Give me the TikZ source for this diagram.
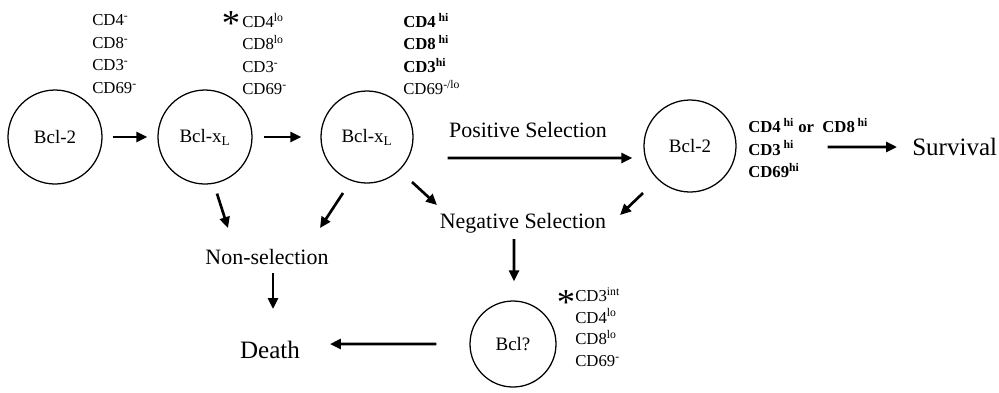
\documentclass[tikz,border=0pt]{standalone}
\usepackage{fontspec}
\setmainfont{Liberation Serif}
\usetikzlibrary{arrows.meta}
\begin{document}
\begin{tikzpicture}[
cell/.style={circle,draw,line width=0.9pt,minimum size=2.35cm,inner sep=0pt,font=\fontsize{13.5}{13.5}\selectfont},
marks/.style={anchor=west,inner sep=0pt,align=left,font=\fontsize{11.9}{16}\selectfont},
word/.style={inner sep=0pt,font=\fontsize{15.6}{15.6}\selectfont},
bigword/.style={inner sep=0pt,font=\fontsize{17.8}{17.8}\selectfont},
star/.style={inner sep=0pt,anchor=base,font=\fontsize{26}{26}\selectfont},
arr/.style={-{Triangle[length=7.8pt,width=7.1pt]},line width=1.9pt}]
\useasboundingbox (0,0) rectangle (24.975,-9.8);
\node[cell] (c1) at (1.375,-3.425) {Bcl-2};
\node[cell] (c2) at (5.125,-3.425) {Bcl-x\textsubscript{L}};
\node[cell,minimum size=2.3cm] (c3) at (9.175,-3.425) {Bcl-x\textsubscript{L}};
\node[cell,minimum size=2.3cm] (c4) at (17.25,-3.65) {Bcl-2};
\node[cell,minimum size=2.15cm] (c5) at (12.825,-8.6) {Bcl?};
\node[marks] (m1) at (2.3,-1.35) {CD4\textsuperscript{-}\\CD8\textsuperscript{-}\\CD3\textsuperscript{-}\\CD69\textsuperscript{-}};
\node[marks] (m2) at (6.05,-1.35) {CD4\textsuperscript{lo}\\CD8\textsuperscript{lo}\\CD3\textsuperscript{-}\\CD69\textsuperscript{-}};
\node[star] (s2) at (5.775,-0.89) {*};
\node[marks] (m3) at (10.075,-1.35) {\textbf{CD4\,\textsuperscript{hi}}\\\textbf{CD8\,\textsuperscript{hi}}\\\textbf{CD3\textsuperscript{hi}}\\CD69\textsuperscript{-/lo}};
\node[marks] (m4) at (18.7,-3.7) {\textbf{CD4\,\textsuperscript{hi} or\ \ CD8\,\textsuperscript{hi}}\\\textbf{CD3\,\textsuperscript{hi}}\\\textbf{CD69\textsuperscript{hi}}};
\node[marks,font=\fontsize{11.9}{15.4}\selectfont] (m5) at (14.375,-8.175) {CD3\textsuperscript{int}\\CD4\textsuperscript{lo}\\CD8\textsuperscript{lo}\\CD69\textsuperscript{-}};
\node[star] (s5) at (14.15,-7.865) {*};
\node[word] (pos) at (13.2,-3.25) {Positive Selection};
\node[word] (neg) at (13.075,-5.575) {Negative Selection};
\node[word] (non) at (6.675,-6.425) {Non-selection};
\node[bigword] (death) at (6.75,-8.75) {Death};
\node[bigword,anchor=west] (surv) at (22.8,-3.675) {Survival};
\draw[arr,shorten <=0.25cm,shorten >=0.25cm] (c1)--(c2);
\draw[arr,shorten <=0.275cm,shorten >=0.475cm] (c2)--(c3);
\draw[arr] ([shift={(0.85,-0.525)}]c3.east)--([shift={(-0.275,-0.3)}]c4.west);
\draw[arr,shorten >=0.375cm] ([shift={(2.275,-0.025)}]c4.east)--(surv.west);
\draw[arr] ([shift={(0.3,-0.225)}]c2.south)--([shift={(-0.975,0.725)}]non.center);
\draw[arr] ([shift={(-0.6,-1.4)}]c3.center)--([shift={(1.325,0.725)}]non.center);
\draw[arr] ([shift={(1.125,-1.125)}]c3.center)--([shift={(-2.15,0.45)}]neg.center);
\draw[arr] ([shift={(-1.175,-1.175)}]c4.center)--([shift={(2.425,0.2)}]neg.center);
\draw[arr] ([shift={(-0.225,-0.4)}]neg.center)--([shift={(0.025,0.475)}]c5.north);
\draw[arr] ([shift={(0.15,-0.4)}]non.center)--([shift={(0.075,1.025)}]death.center);
\draw[arr] ([shift={(-0.825,0)}]c5.west)--([shift={(1.5,0.15)}]death.center);
\end{tikzpicture}
\end{document}
